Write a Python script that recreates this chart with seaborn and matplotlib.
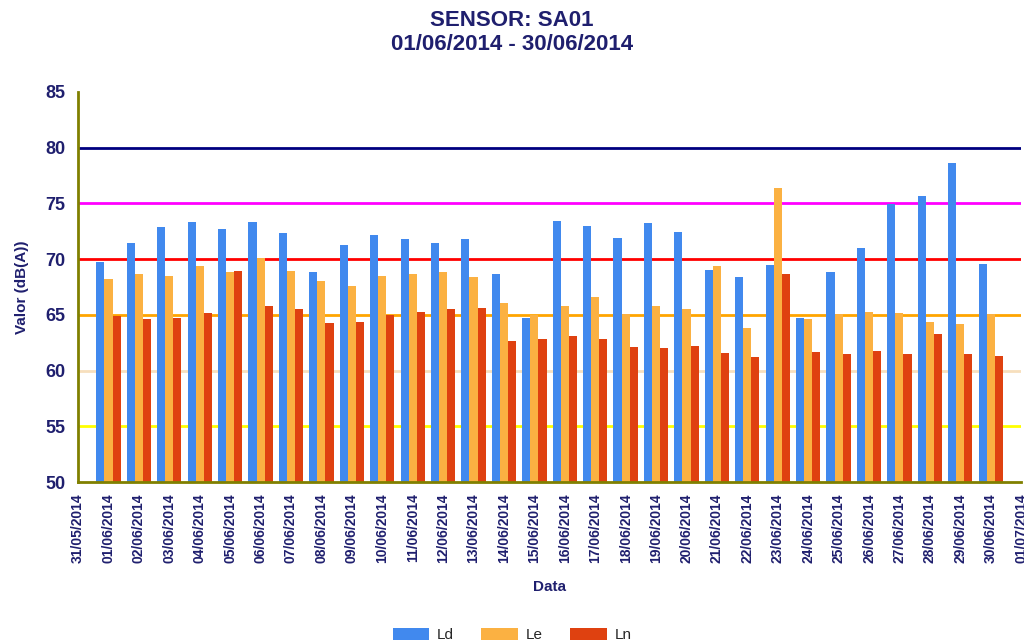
import pandas as pd
import numpy as np
import matplotlib.pyplot as plt
import seaborn as sns

sns.set_style('white')
plt.rcParams['font.family'] = ['Liberation Sans', 'DejaVu Sans']

# Data (dB(A)) for each day of June 2014
days = list(range(1, 31))
ld = [69.7, 71.4, 72.9, 73.3, 72.7, 73.3, 72.3, 68.8, 71.3, 72.2,
      71.8, 71.4, 71.8, 68.7, 64.7, 73.4, 73.0, 71.9, 73.2, 72.4,
      69.0, 68.4, 69.5, 64.7, 68.8, 71.0, 74.9, 75.7, 78.6, 69.6]
le = [68.2, 68.7, 68.5, 69.4, 68.8, 70.1, 68.9, 68.0, 67.6, 68.5,
      68.7, 68.8, 68.4, 66.1, 65.0, 65.8, 66.6, 65.1, 65.8, 65.5,
      69.4, 63.8, 76.4, 64.6, 65.1, 65.3, 65.2, 64.4, 64.2, 65.1]
ln = [64.9, 64.6, 64.7, 65.2, 68.9, 65.8, 65.5, 64.3, 64.4, 65.0,
      65.3, 65.5, 65.6, 62.7, 62.8, 63.1, 62.8, 62.1, 62.0, 62.2,
      61.6, 61.2, 68.7, 61.7, 61.5, 61.8, 61.5, 63.3, 61.5, 61.3]
tick_labels = ['31/05/2014'] + ['%02d/06/2014' % d for d in days] + ['01/07/2014']

# Reference levels
ref_levels = [55, 60, 65, 70, 75, 80]
ref_colors = ['#ffff00', '#f7dfbd', '#ffa500', '#ff0000', '#ff00ff', '#000080']

df = pd.DataFrame({
    'day': days * 3,
    'valor': ld + le + ln,
    'serie': ['Ld'] * 30 + ['Le'] * 30 + ['Ln'] * 30,
})

navy = '#1f1f6e'
fig = plt.figure(figsize=(10.24, 6.42), dpi=100)
ax = fig.add_axes([0.0762, 0.249, 0.921, 0.608])

for lvl, c in zip(ref_levels, ref_colors):
    ax.axhline(lvl, color=c, lw=2, zorder=0.5)

sns.barplot(data=df, x='day', y='valor', hue='serie', native_scale=True,
            palette=['#4189ee', '#fbb142', '#df4110'], saturation=1,
            width=0.8, linewidth=0, ax=ax, zorder=2)

ax.set_xlim(0, 31)
ax.set_ylim(50, 85)
ax.set_xticks(range(32))
ax.set_xticklabels(tick_labels, rotation=90, fontsize=10, fontweight='bold', color=navy)
ax.set_yticks(range(50, 86, 5))
ax.set_yticklabels([str(v) for v in range(50, 86, 5)], fontsize=13, fontweight='bold', color=navy)
ax.tick_params(axis='both', length=6, color='#999999', width=1, direction='out', pad=3)
ax.tick_params(axis='x', pad=2)

for s in ['top', 'right']:
    ax.spines[s].set_visible(False)
for s in ['left', 'bottom']:
    ax.spines[s].set_color('#808000')
    ax.spines[s].set_linewidth(2)
    ax.spines[s].set_zorder(3)

ax.set_xlabel('Data', fontsize=11, fontweight='bold', color=navy, labelpad=12)
ax.set_ylabel('Valor (dB(A))', fontsize=11, fontweight='bold', color=navy, labelpad=12)

fig.suptitle('SENSOR: SA01\n01/06/2014 - 30/06/2014', y=0.985, fontsize=16,
             fontweight='bold', color=navy, linespacing=1.2)

handles, labels = ax.get_legend_handles_labels()
ax.get_legend().remove()
fig.legend(handles, labels, loc='lower center', bbox_to_anchor=(0.5, -0.022), ncol=3,
           frameon=False, fontsize=11, handlelength=2.4, handleheight=0.8,
           columnspacing=1.8, handletextpad=0.5)

fig.savefig('out.png', dpi=100)
